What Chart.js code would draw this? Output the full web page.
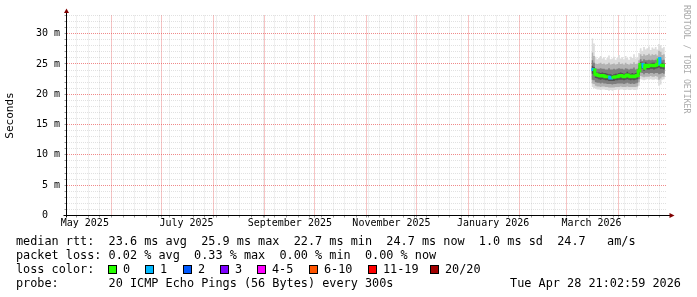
<!DOCTYPE html>
<html>
<head>
<meta charset="utf-8">
<script src="https://cdn.jsdelivr.net/npm/chart.js@4.4.1/dist/chart.umd.min.js"></script>
<style>
  html, body { margin: 0; padding: 0; background: #fff; }
  #wrap { position: relative; width: 697px; height: 297px; overflow: hidden; background: #fff; }
  #wrap canvas { position: absolute; left: 0; top: 0; }
  .lg { position: absolute; font-family: 'DejaVu Sans Mono', monospace; font-size: 11.83px; line-height: 14px; color: #000; white-space: pre; }
  .box { position: absolute; width: 7px; height: 7px; border: 1px solid #000; }
  #mark { position: absolute; left: 683px; top: 5px; font-family: 'DejaVu Sans Mono', monospace; font-size: 8.2px; line-height: 8px; color: #aaa; writing-mode: vertical-rl; white-space: pre; }
</style>
</head>
<body>
<div id="wrap">
  <canvas id="chart" width="697" height="297"></canvas>
  <div id="mark">RRDTOOL / TOBI OETIKER</div>
</div>
<script>
(function() {
    'use strict';

    // --- time axis (x = days since axis start) ---
    const DAY = 86400000;
    const axisStart = Date.UTC(2025, 4, 5);
    const axisDays = 360;
    const dayOf = s => (Date.parse(s + 'T00:00:00Z') - axisStart) / DAY;

    const monthStarts = ['2025-06-01', '2025-07-01', '2025-08-01', '2025-09-01', '2025-10-01', '2025-11-01',
        '2025-12-01', '2026-01-01', '2026-02-01', '2026-03-01', '2026-04-01'];
    const monthLabels = ['May 2025', 'July 2025', 'September 2025', 'November 2025', 'January 2026', 'March 2026'];
    const monthLabelDates = ['2025-05-16', '2025-07-16', '2025-09-16', '2025-11-16', '2026-01-16', '2026-03-16'];
    const firstWeekLine = '2025-05-11';

    // --- y axis (ms) ---
    const yMax = 33;
    const yLabelValues = [0, 5, 10, 15, 20, 25, 30];
    const yLabels = ['0  ', '5 m', '10 m', '15 m', '20 m', '25 m', '30 m'];

    // --- samples: one per day from sampleStart ---
    const sampleStart = '2026-03-16';
    const median = [24.1, 24.0, 23.3, 23.2, 23.1, 23.0, 23.1, 23.0, 22.9, 22.9, 22.8, 22.7, 22.8, 22.8, 22.9,
        22.9, 23.0, 23.1, 23.0, 22.9, 23.0, 23.2, 23.0, 22.9, 23.0, 22.9, 23.0, 23.1, 23.9,
        24.9, 24.9, 24.3, 24.8, 24.6, 24.7, 24.8, 24.8, 24.7, 24.8, 24.9, 25.9, 24.8, 24.8, 24.7, 24.7];
    const lostPings = [1, 0, 0, 0, 0, 0, 0, 0, 0, 0, 1, 1, 0, 0, 0, 0, 0, 0, 0, 0, 0, 0, 0, 0, 0, 0, 0, 0, 0,
        0, 1, 0, 0, 0, 0, 0, 0, 0, 0, 0, 1, 0, 0, 0, 0];
    const pingMax = [29.2, 28.4, 26.2, 25.8, 26.0, 26.3, 25.9, 26.1, 25.7, 26.0, 26.4, 25.8, 25.9, 26.2, 25.7,
        26.0, 26.5, 25.9, 26.1, 25.8, 26.3, 26.0, 25.7, 26.2, 26.0, 26.6, 25.9, 26.1, 26.8,
        27.6, 27.2, 27.8, 27.4, 27.6, 27.9, 27.3, 27.7, 27.5, 27.8, 27.4, 28.3, 28.1, 27.6, 27.8, 27.5];
    const ping90 = [26.9, 26.3, 25.1, 25.0, 25.1, 25.2, 25.0, 25.1, 24.9, 25.0, 25.2, 24.9, 25.0, 25.1, 24.9,
        25.0, 25.3, 25.0, 25.1, 24.9, 25.2, 25.0, 24.9, 25.1, 25.0, 25.3, 25.0, 25.1, 25.6,
        26.6, 26.3, 26.6, 26.4, 26.5, 26.7, 26.4, 26.6, 26.5, 26.6, 26.4, 27.2, 27.0, 26.5, 26.6, 26.4];
    const ping75 = [25.6, 25.2, 24.3, 24.2, 24.2, 24.3, 24.2, 24.2, 24.1, 24.1, 24.3, 24.1, 24.1, 24.2, 24.1,
        24.2, 24.3, 24.2, 24.2, 24.1, 24.3, 24.2, 24.1, 24.2, 24.2, 24.4, 24.1, 24.2, 24.8,
        25.8, 25.5, 25.8, 25.6, 25.6, 25.7, 25.6, 25.7, 25.6, 25.7, 25.6, 26.0, 25.9, 25.6, 25.7, 25.6];
    const ping60 = [24.7, 24.5, 23.7, 23.6, 23.6, 23.5, 23.6, 23.5, 23.5, 23.4, 23.3, 23.3, 23.2, 23.3, 23.4,
        23.4, 23.5, 23.6, 23.5, 23.4, 23.5, 23.7, 23.5, 23.4, 23.5, 23.4, 23.5, 23.6, 24.3,
        25.3, 25.2, 24.8, 25.3, 25.1, 25.0, 25.1, 25.2, 25.2, 25.1, 25.2, 25.3, 25.2, 25.2, 25.1, 25.1];
    const ping40 = [23.4, 23.3, 22.7, 22.6, 22.5, 22.4, 22.5, 22.4, 22.3, 22.3, 22.2, 22.2, 22.2, 22.2, 22.3,
        22.3, 22.4, 22.4, 22.4, 22.3, 22.4, 22.5, 22.4, 22.3, 22.4, 22.3, 22.4, 22.5, 23.2,
        24.3, 24.2, 23.9, 24.2, 24.1, 24.1, 24.2, 24.2, 24.1, 24.2, 24.3, 24.4, 24.2, 24.2, 24.1, 24.1];
    const ping25 = [22.4, 22.3, 22.0, 21.9, 21.9, 21.8, 21.9, 21.8, 21.8, 21.7, 21.7, 21.7, 21.6, 21.7, 21.7,
        21.8, 21.8, 21.8, 21.8, 21.7, 21.8, 21.9, 21.8, 21.7, 21.8, 21.7, 21.8, 21.9, 22.5,
        23.6, 23.5, 23.3, 23.5, 23.5, 23.4, 23.5, 23.5, 23.4, 23.5, 23.5, 23.3, 23.4, 23.5, 23.4, 23.4];
    const ping10 = [21.8, 21.7, 21.4, 21.3, 21.3, 21.2, 21.3, 21.3, 21.2, 21.2, 21.1, 21.1, 21.1, 21.1, 21.2,
        21.2, 21.2, 21.3, 21.2, 21.2, 21.2, 21.3, 21.2, 21.2, 21.2, 21.2, 21.2, 21.3, 22.0,
        23.0, 22.9, 22.8, 22.9, 22.9, 22.9, 23.0, 22.9, 22.9, 23.0, 22.9, 22.4, 22.6, 22.9, 22.9, 22.9];
    const pingMin = [21.2, 21.0, 20.9, 20.8, 20.8, 20.7, 20.8, 20.8, 20.7, 20.7, 20.6, 20.7, 20.6, 20.7, 20.7,
        20.8, 20.7, 20.8, 20.8, 20.7, 20.7, 20.8, 20.7, 20.7, 20.8, 20.7, 20.7, 20.8, 21.4,
        22.5, 22.4, 22.3, 22.4, 22.5, 22.4, 22.5, 22.4, 22.4, 22.5, 22.4, 21.4, 21.6, 22.4, 22.5, 22.4];

    // --- legend ---
    const lossNames = ['0', '1', '2', '3', '4-5', '6-10', '11-19', '20/20'];
    const lossColors = ['#26ff00', '#00b8ff', '#0059ff', '#7e00ff', '#ff00ff', '#ff5500', '#ff0000', '#a10000'];
    const lossUpper = [0, 1, 2, 3, 5, 10, 19, 20];
    const rttLine = 'median rtt:  23.6 ms avg  25.9 ms max  22.7 ms min  24.7 ms now  1.0 ms sd  24.7   am/s';
    const lossLine = 'packet loss: 0.02 % avg  0.33 % max  0.00 % min  0.00 % now';
    const probeLine = 'probe:       20 ICMP Echo Pings (56 Bytes) every 300s';
    const stamp = 'Tue Apr 28 21:02:59 2026';

    // legend layout (px)
    const boxX = [108, 145, 183, 220, 257, 309, 368, 430];
    const rowTop = [234, 248, 262, 276];

    const wrap = document.getElementById('wrap');
    const addText = (text, x, y, right) => {
        const el = document.createElement('div');
        el.className = 'lg';
        el.textContent = text;
        if (right) el.style.right = (697 - x) + 'px'; else el.style.left = x + 'px';
        el.style.top = y + 'px';
        wrap.appendChild(el);
    };
    addText(rttLine, 16, rowTop[0]);
    addText(lossLine, 16, rowTop[1]);
    addText('loss color:', 16, rowTop[2]);
    lossNames.forEach((t, i) => {
        const b = document.createElement('div');
        b.className = 'box';
        b.style.left = boxX[i] + 'px';
        b.style.top = (rowTop[2] + 3) + 'px';
        b.style.background = lossColors[i];
        wrap.appendChild(b);
        addText(t, boxX[i] + 15, rowTop[2]);
    });
    addText(probeLine, 16, rowTop[3]);
    addText(stamp, 681, rowTop[3], true);

    // --- build chart data ---
    const x0 = dayOf(sampleStart);
    const pts = arr => arr.map((v, i) => ({ x: x0 + i, y: v }));
    const lossColor = n => lossColors[lossUpper.findIndex(u => n <= u)];

    const bands = [
        [pingMax, pingMin, '#dcdcdc'],
        [ping90, ping10, '#b2b2b2'],
        [ping75, ping25, '#7e7e7e'],
        [ping60, ping40, '#525252']
    ];
    const datasets = [];
    bands.forEach(([hi, lo, col], i) => {
        const order = 10 - i;
        datasets.push({ data: pts(hi), order, stepped: true, borderWidth: 0, borderColor: 'transparent', pointRadius: 0, fill: false });
        datasets.push({ data: pts(lo), order, stepped: true, borderWidth: 0, borderColor: 'transparent', pointRadius: 0, fill: '-1', backgroundColor: col });
    });
    datasets.push({
        data: pts(median),
        order: 0,
        stepped: true,
        borderWidth: 3,
        borderCapStyle: 'butt',
        borderColor: lossColors[0],
        pointRadius: 0,
        fill: false,
        segment: { borderColor: c => lossColor(lostPings[c.p0DataIndex]) }
    });

    // x ticks: weekly minor lines, monthly major lines, mid-month labels
    const xTicks = [];
    for (let d = dayOf(firstWeekLine); d < axisDays; d += 7) xTicks.push({ value: d, kind: 'minor' });
    monthStarts.forEach(s => {
        const d = dayOf(s);
        const t = xTicks.find(k => k.value === d);
        if (t) t.kind = 'major'; else xTicks.push({ value: d, kind: 'major' });
    });
    monthLabelDates.forEach((s, i) => xTicks.push({ value: dayOf(s), kind: 'label', text: monthLabels[i] }));
    xTicks.sort((a, b) => a.value - b.value);

    const yTicks = [];
    for (let v = 0; v <= yMax; v++) {
        const li = yLabelValues.indexOf(v);
        yTicks.push({ value: v, kind: li >= 0 ? 'major' : 'minor', text: li >= 0 ? yLabels[li] : '' });
    }

    const MINOR = 'rgba(140,140,140,0.26)';
    const MAJOR = 'rgba(230,60,60,0.6)';
    const gridColor = c => !c.tick ? MINOR : c.tick.kind === 'major' ? MAJOR : c.tick.kind === 'minor' ? MINOR : 'rgba(0,0,0,0)';
    const tickColor = c => !c.tick || c.tick.kind === 'label' ? 'rgba(0,0,0,0)' : '#999';
    const axisFont = { family: "'DejaVu Sans Mono', monospace", size: 10 };

    const rrdAxes = {
        id: 'rrdAxes',
        afterDraw(chart) {
            const { ctx, chartArea: a } = chart;
            const ax = Math.floor(a.left) + 0.5;
            const ay = Math.floor(a.bottom) + 0.5;
            ctx.save();
            ctx.strokeStyle = '#000';
            ctx.lineWidth = 1;
            ctx.beginPath();
            ctx.moveTo(ax, ay + 2);
            ctx.lineTo(ax, a.top - 4);
            ctx.moveTo(ax - 3, ay);
            ctx.lineTo(a.right + 4, ay);
            ctx.stroke();
            ctx.fillStyle = '#7f0000';
            ctx.beginPath();
            ctx.moveTo(ax, a.top - 7);
            ctx.lineTo(ax - 2.5, a.top - 2.5);
            ctx.lineTo(ax + 2.5, a.top - 2.5);
            ctx.closePath();
            ctx.fill();
            ctx.beginPath();
            ctx.moveTo(a.right + 8, ay);
            ctx.lineTo(a.right + 3, ay - 2.5);
            ctx.lineTo(a.right + 3, ay + 2.5);
            ctx.closePath();
            ctx.fill();
            ctx.restore();
        }
    };

    new Chart(document.getElementById('chart'), {
        type: 'line',
        data: { datasets },
        plugins: [rrdAxes],
        options: {
            responsive: false,
            animation: false,
            events: [],
            layout: { padding: { left: 0, top: 15.5, right: 30.5, bottom: 61.5 } },
            plugins: {
                legend: { display: false },
                tooltip: { enabled: false }
            },
            scales: {
                x: {
                    type: 'linear',
                    min: 0,
                    max: axisDays,
                    z: 1,
                    afterBuildTicks: s => { s.ticks = xTicks.map(t => Object.assign({}, t)); },
                    afterFit: s => { s.height = 20; },
                    grid: { color: gridColor, tickColor, tickLength: 2, lineWidth: 1 },
                    border: { display: false, dash: [1, 1] },
                    ticks: {
                        autoSkip: false,
                        maxRotation: 0,
                        padding: 0,
                        color: '#000',
                        font: axisFont,
                        callback: (v, i, ticks) => ticks[i].text || ''
                    }
                },
                y: {
                    type: 'linear',
                    min: 0,
                    max: yMax,
                    z: 1,
                    afterBuildTicks: s => { s.ticks = yTicks.map(t => Object.assign({}, t)); },
                    afterFit: s => { s.width = 66.5; },
                    grid: { color: gridColor, tickColor, tickLength: 2, lineWidth: 1 },
                    border: { display: false, dash: [1, 1] },
                    title: {
                        display: true,
                        text: 'Seconds',
                        color: '#000',
                        font: { family: "'DejaVu Sans Mono', monospace", size: 11 },
                        padding: { top: 4, bottom: 0 }
                    },
                    ticks: {
                        autoSkip: false,
                        padding: 4.5,
                        color: '#000',
                        font: axisFont,
                        callback: (v, i, ticks) => ticks[i].text || ''
                    }
                }
            }
        }
    });
})();
</script>
</body>
</html>
